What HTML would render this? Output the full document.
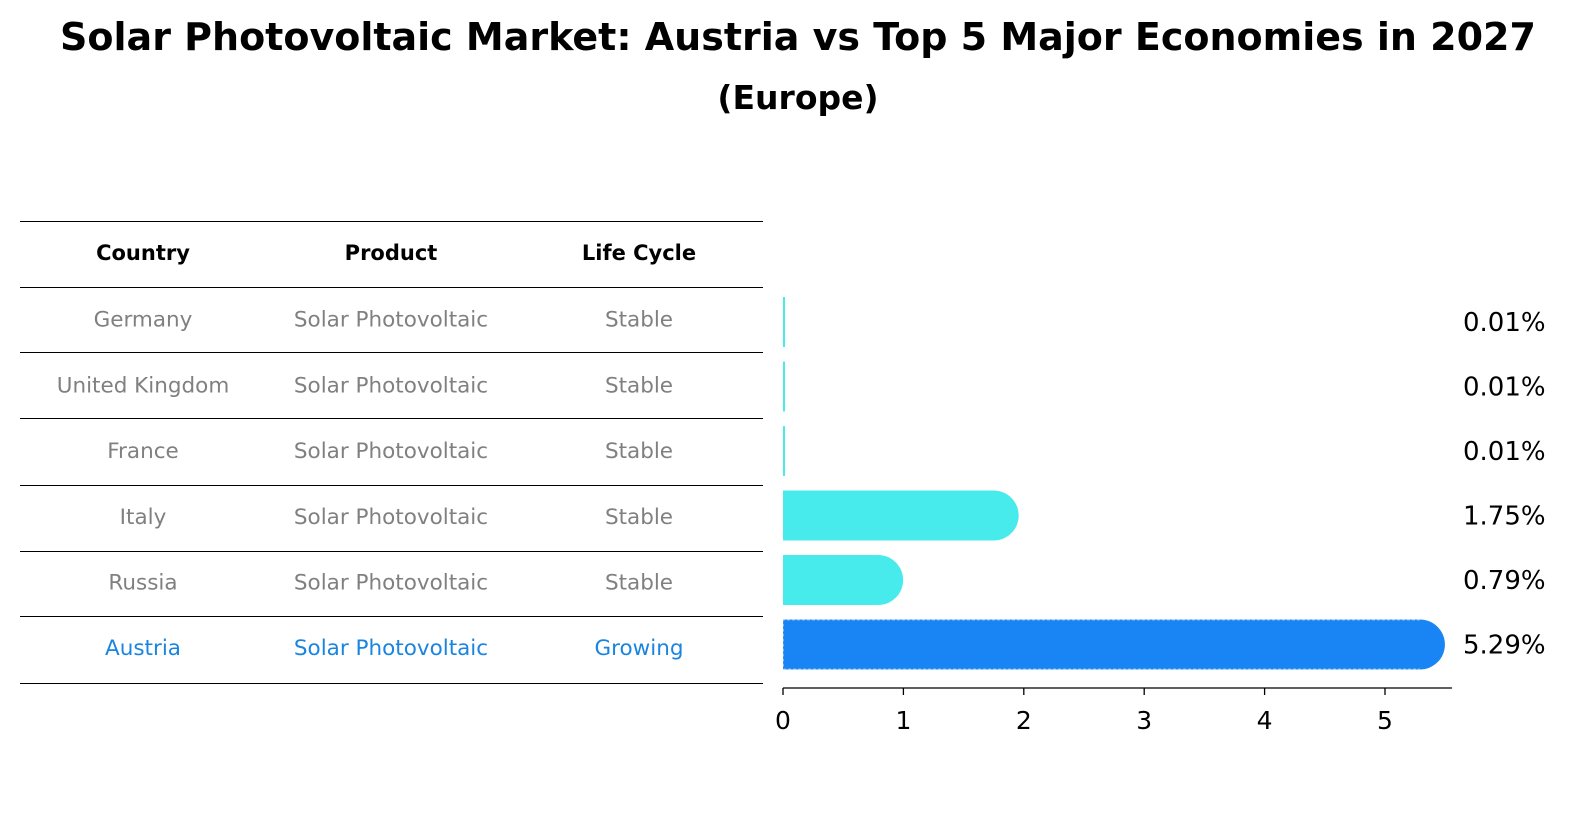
<!DOCTYPE html>
<html><head><meta charset="utf-8"><style>
body{margin:0;background:#fff;width:1586px;height:823px;overflow:hidden;font-family:"DejaVu Sans","Liberation Sans",sans-serif}
</style></head><body>
<svg width="1586" height="823" id="svg" font-family="DejaVu Sans, Liberation Sans, sans-serif">
<text x="798" y="50" text-anchor="middle" font-size="38" font-weight="bold">Solar Photovoltaic Market: Austria vs Top 5 Major Economies in 2027</text>
<text x="798" y="109" text-anchor="middle" font-size="33" font-weight="bold">(Europe)</text>
<g id="table"></g>
<g id="bars"></g>
</svg>
<script>
const countries=["Germany","United Kingdom","France","Italy","Russia","Austria"];
const products=["Solar Photovoltaic","Solar Photovoltaic","Solar Photovoltaic","Solar Photovoltaic","Solar Photovoltaic","Solar Photovoltaic"];
const lifeCycles=["Stable","Stable","Stable","Stable","Stable","Growing"];
const values=[0.01,0.01,0.01,1.75,0.79,5.29];
const valueLabels=["0.01%","0.01%","0.01%","1.75%","0.79%","5.29%"];
const ticks=[0,1,2,3,4,5];
const NS="http://www.w3.org/2000/svg";
function mk(tag,attrs,parent){const e=document.createElementNS(NS,tag);for(const k in attrs)e.setAttribute(k,attrs[k]);parent.appendChild(e);return e;}
const x=v=>783+v*120.4;
const rowY=i=>322+i*64.5;
const tbl=document.getElementById('table');
const lines=[221,287,352,418,485,551,616,683];
lines.forEach(y=>{const l=mk('line',{x1:20,x2:763,y1:y+0.5,y2:y+0.5,stroke:'#000','stroke-width':1},tbl);

});
const cols=[143,391,639];
["Country","Product","Life Cycle"].forEach((h,j)=>{const t=mk('text',{x:cols[j],y:260,'text-anchor':'middle','font-size':21,'font-weight':'bold'},tbl);t.textContent=h;

});
countries.forEach((c,i)=>{const color=i===5?'#1a85e0':'#808080';
[c,products[i],lifeCycles[i]].forEach((s,j)=>{const t=mk('text',{x:cols[j],y:(254+65.7*(i+1)+7),'text-anchor':'middle','font-size':21.5,fill:color},tbl);t.textContent=s;

});});
const bg=document.getElementById('bars');
const h=50,r=25;
values.forEach((v,i)=>{const cy=rowY(i),y0=cy-h/2,xe=x(v);const col=i===5?'#1985f5':'#48ebeb';
let p;
if(v<0.05){p=mk('rect',{x:783,y:y0,width:2,height:h,fill:col},bg);}
else{p=mk('path',{d:`M783 ${y0} H${xe} A${r} ${r} 0 0 1 ${xe} ${y0+h} H783 Z`,fill:col},bg);
if(i===5){mk('path',{d:`M${xe} ${y0+0.5} H783.5 V${y0+h-0.5} H${xe}`,fill:'none',stroke:'#7ab8f0','stroke-width':1,'stroke-dasharray':'3 2'},bg);}}


const t=mk('text',{x:1463,y:cy+9,'font-size':26},bg);t.textContent=valueLabels[i];

});
const ax=mk('line',{x1:783,x2:1452,y1:688,y2:688,stroke:'#000','stroke-width':1.3},bg);


ticks.forEach(tv=>{const tk=mk('line',{x1:x(tv),x2:x(tv),y1:688,y2:695,stroke:'#000','stroke-width':1.3},bg);


const t=mk('text',{x:x(tv),y:729,'text-anchor':'middle','font-size':25},bg);t.textContent=tv;

});
</script>
</body></html>
